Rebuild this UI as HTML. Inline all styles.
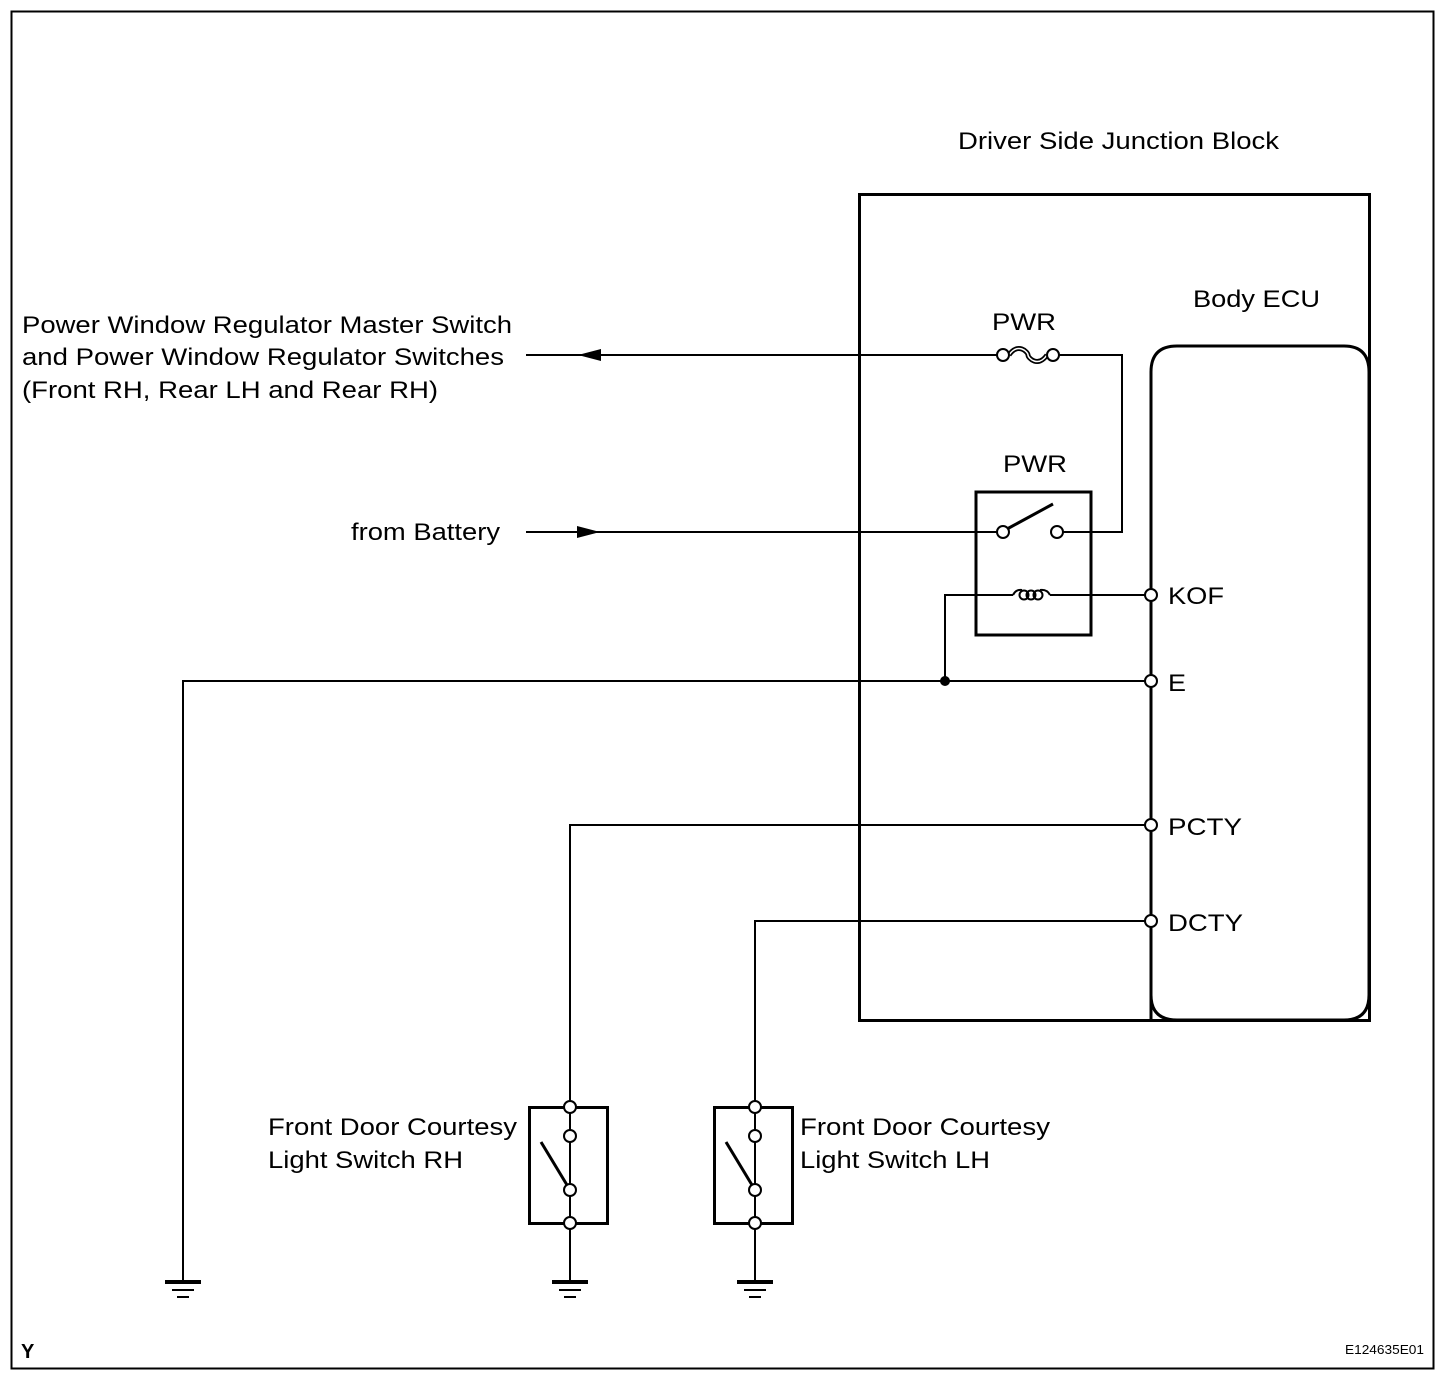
<!DOCTYPE html>
<html><head><meta charset="utf-8"><style>
html,body{margin:0;padding:0;background:#fff;}
svg{display:block;}
text{font-family:"Liberation Sans",Arial,sans-serif;fill:#000;}
</style></head><body>
<svg width="1456" height="1388" viewBox="0 0 1456 1388" xmlns="http://www.w3.org/2000/svg">
<rect x="11.5" y="11.5" width="1422" height="1357" fill="none" stroke="#000" stroke-width="2"/>
<rect x="859.5" y="194.5" width="510" height="826" fill="none" stroke="#000" stroke-width="3"/>
<path d="M1151,1020 V372 Q1151,346 1177,346 H1344 Q1369,346 1369,372 V995 Q1369,1020 1344,1020 H1177 Q1151,1020 1151,995 Z" fill="none" stroke="#000" stroke-width="3"/>
<g font-size="24" lengthAdjust="spacingAndGlyphs">
<text x="958" y="149" textLength="321" lengthAdjust="spacingAndGlyphs">Driver Side Junction Block</text>
<text x="1193" y="307" textLength="127" lengthAdjust="spacingAndGlyphs">Body ECU</text>
<text x="992" y="330" textLength="64" lengthAdjust="spacingAndGlyphs">PWR</text>
<text x="1003" y="472" textLength="64" lengthAdjust="spacingAndGlyphs">PWR</text>
<text x="22" y="333" textLength="490" lengthAdjust="spacingAndGlyphs">Power Window Regulator Master Switch</text>
<text x="22" y="365" textLength="482" lengthAdjust="spacingAndGlyphs">and Power Window Regulator Switches</text>
<text x="22" y="398" textLength="416" lengthAdjust="spacingAndGlyphs">(Front RH, Rear LH and Rear RH)</text>
<text x="351" y="540" textLength="149" lengthAdjust="spacingAndGlyphs">from Battery</text>
<text x="1168" y="604" textLength="56" lengthAdjust="spacingAndGlyphs">KOF</text>
<text x="1168" y="691" textLength="18" lengthAdjust="spacingAndGlyphs">E</text>
<text x="1168" y="835" textLength="74" lengthAdjust="spacingAndGlyphs">PCTY</text>
<text x="1168" y="931" textLength="75" lengthAdjust="spacingAndGlyphs">DCTY</text>
<text x="268" y="1135" textLength="249" lengthAdjust="spacingAndGlyphs">Front Door Courtesy</text>
<text x="268" y="1168" textLength="195" lengthAdjust="spacingAndGlyphs">Light Switch RH</text>
<text x="800" y="1135" textLength="250" lengthAdjust="spacingAndGlyphs">Front Door Courtesy</text>
<text x="800" y="1168" textLength="190" lengthAdjust="spacingAndGlyphs">Light Switch LH</text>
</g>
<text x="21" y="1358" font-size="20" font-weight="bold">Y</text>
<text x="1345" y="1354" font-size="13" textLength="79" lengthAdjust="spacingAndGlyphs">E124635E01</text>
<g fill="none" stroke="#000" stroke-width="2">
<path d="M526,355 H997"/>
<path d="M1059,355 H1122 V532 H1063"/>
<path d="M526,532 H997"/>
<path d="M945,681 V595 H1013"/>
<path d="M1050,595 H1145"/>
<path d="M183,1282 V681 H1145"/>
<path d="M570,1101 V825 H1145"/>
<path d="M755,1101 V921 H1145"/>
</g>
<polygon points="578,355 601,349 601,361" fill="#000"/>
<polygon points="600,532 577,526 577,538" fill="#000"/>
<path d="M1009,355 C1018,342 1028,352 1028,355 C1028,358 1038,368 1047,355" fill="none" stroke="#000" stroke-width="5"/>
<path d="M1009,355 C1018,342 1028,352 1028,355 C1028,358 1038,368 1047,355" fill="none" stroke="#fff" stroke-width="1.5"/>
<g fill="#fff" stroke="#000" stroke-width="2">
<circle cx="1003" cy="355" r="6"/><circle cx="1053" cy="355" r="6"/>
</g>
<rect x="976" y="492" width="115" height="143" fill="none" stroke="#000" stroke-width="3"/>
<line x1="1007" y1="529" x2="1053" y2="504" stroke="#000" stroke-width="3"/>
<g fill="none" stroke="#000" stroke-width="2">
<path d="M1013,595 Q1016,589 1022,590"/>
<circle cx="1024" cy="595" r="4.5"/>
<circle cx="1031" cy="595" r="4.5"/>
<circle cx="1038" cy="595" r="4.5"/>
<path d="M1040,590 Q1047,589 1050,595"/>
</g>
<g fill="#fff" stroke="#000" stroke-width="2">
<circle cx="1003" cy="532" r="6"/><circle cx="1057" cy="532" r="6"/>
<circle cx="1151" cy="595" r="6"/><circle cx="1151" cy="681" r="6"/>
<circle cx="1151" cy="825" r="6"/><circle cx="1151" cy="921" r="6"/>
</g>
<circle cx="945" cy="681" r="5" fill="#000"/>
<g id="sw">
<rect x="529.5" y="1107.5" width="78" height="116" fill="none" stroke="#000" stroke-width="3"/>
<path d="M570,1107 V1282" stroke="#000" stroke-width="2"/>
<line x1="541" y1="1142" x2="567" y2="1185" stroke="#000" stroke-width="3"/>
<g fill="#fff" stroke="#000" stroke-width="2">
<circle cx="570" cy="1107" r="6"/><circle cx="570" cy="1136" r="6"/>
<circle cx="570" cy="1190" r="6"/><circle cx="570" cy="1223" r="6"/>
</g>
</g>
<use href="#sw" x="185"/>
<g id="gnd" stroke="#000">
<line x1="552" y1="1282" x2="588" y2="1282" stroke-width="4"/>
<line x1="559" y1="1290" x2="581" y2="1290" stroke-width="2"/>
<line x1="564" y1="1297" x2="576" y2="1297" stroke-width="2"/>
</g>
<use href="#gnd" x="185"/>
<use href="#gnd" x="-387"/>
</svg>
</body></html>
